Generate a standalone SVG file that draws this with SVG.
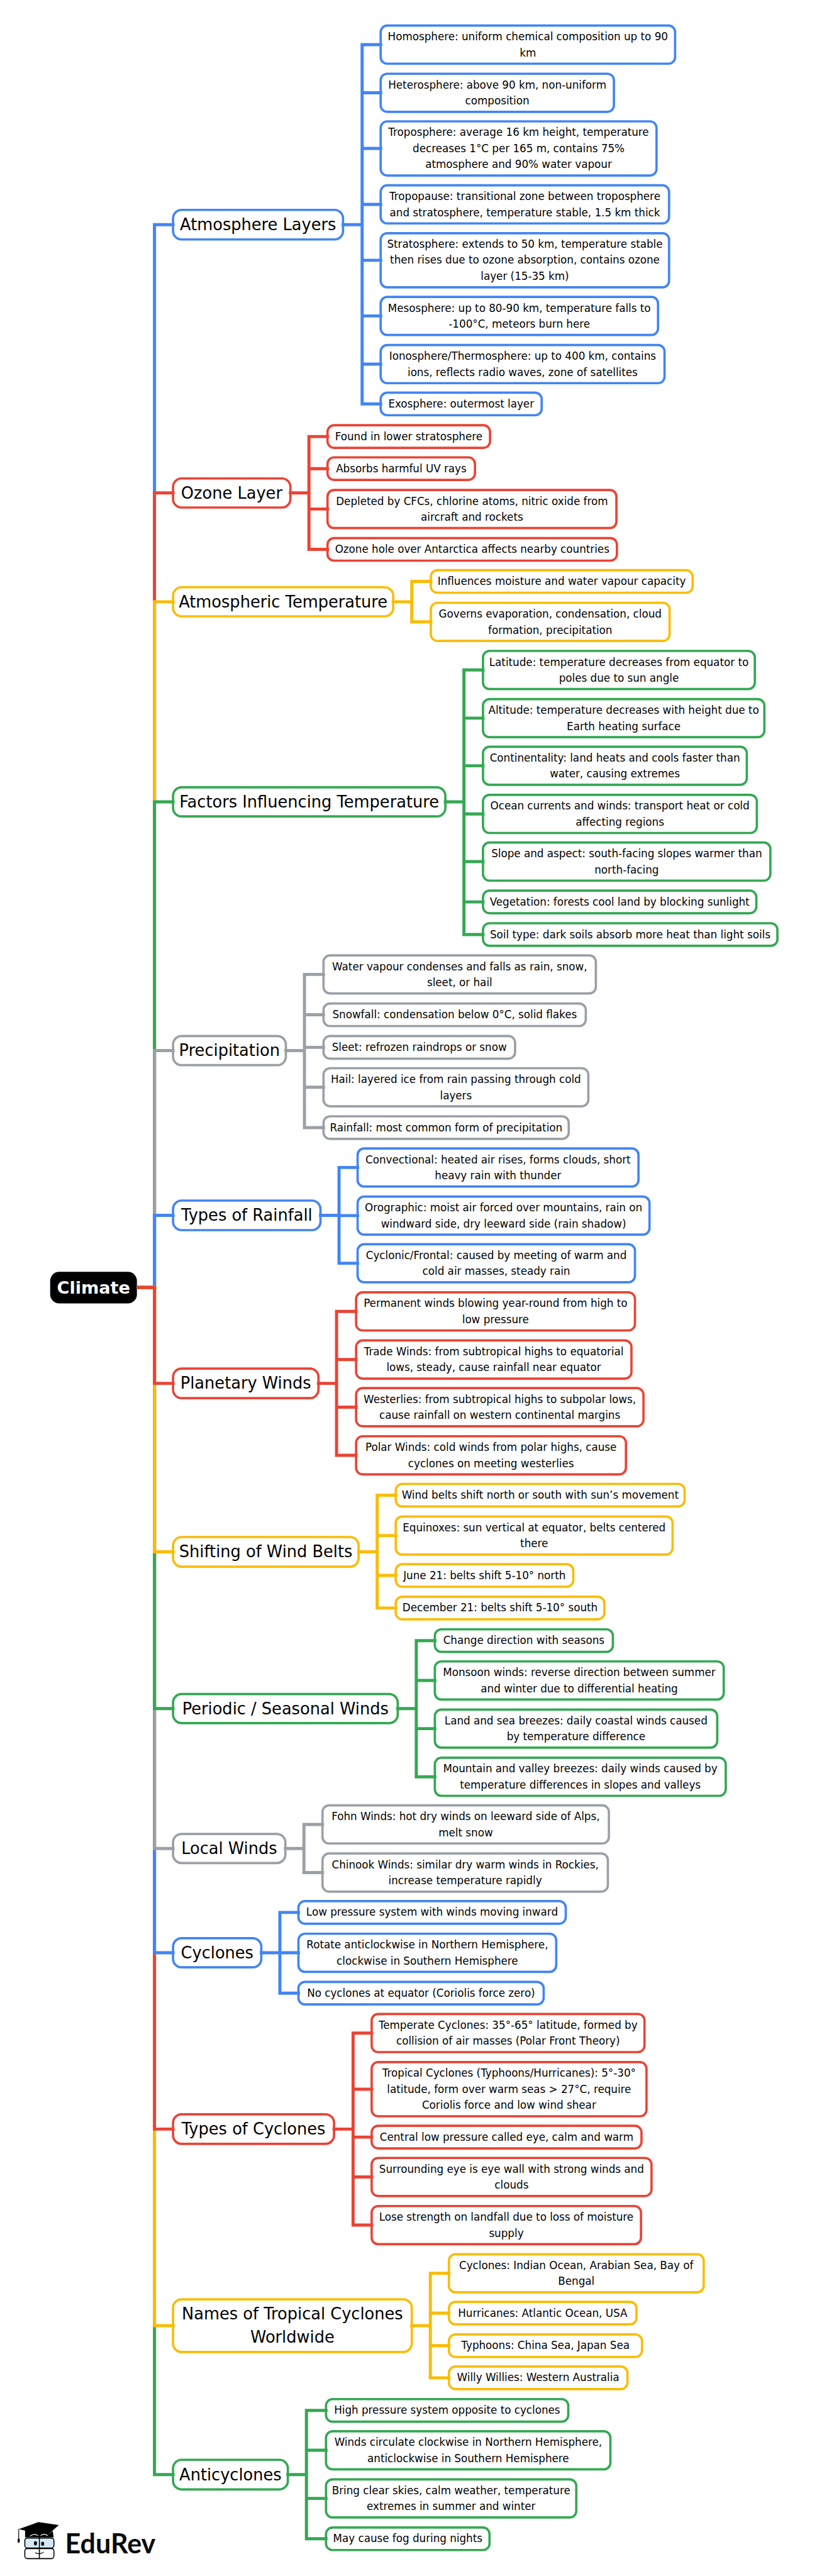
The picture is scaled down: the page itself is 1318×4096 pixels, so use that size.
<svg xmlns="http://www.w3.org/2000/svg" width="1318" height="4096" viewBox="0 0 1318 4096">
<style>
text{font-family:"DejaVu Sans",sans-serif;fill:#000;text-anchor:middle}
.t{font-size:21px}
.h{font-size:32.2px}
rect.n,rect.f{fill:#fff;stroke-width:4.6}
rect.n{rx:17px;ry:17px}
rect.f{rx:13px;ry:13px}
.b{stroke:#4285F4}.r{stroke:#EA4335}.y{stroke:#FBBC04}.g{stroke:#34A853}.a{stroke:#9AA0A6}
#connectors path{fill:none;stroke-width:6.2;stroke-linecap:square;stroke-linejoin:miter}
</style>
<rect width="1318" height="4096" fill="#fff"/>
<g transform="scale(0.7974)">
<g id="nodes">
<g id="root"><rect x="100" y="2536" width="173" height="63" rx="18" fill="#000"/><text x="186.5" y="2580" style="font-size:34px;font-weight:700;fill:#fff">Climate</text></g>

<g id="atmosphere-layers"><rect class="n b" x="345" y="418.5" width="339" height="59"/><text class="h" x="514.5" y="459">Atmosphere Layers</text></g>
<g id="a1"><rect class="f b" x="759" y="51" width="587" height="76"/><text class="t" x="1052.5" y="80.5">Homosphere: uniform chemical composition up to 90</text><text class="t" x="1052.5" y="112.5">km</text></g>
<g id="a2"><rect class="f b" x="759" y="147" width="465" height="76"/><text class="t" x="991.5" y="176.5">Heterosphere: above 90 km, non-uniform</text><text class="t" x="991.5" y="208.5">composition</text></g>
<g id="a3"><rect class="f b" x="759" y="242" width="550" height="108"/><text class="t" x="1034" y="271">Troposphere: average 16 km height, temperature</text><text class="t" x="1034" y="303">decreases 1°C per 165 m, contains 75%</text><text class="t" x="1034" y="335">atmosphere and 90% water vapour</text></g>
<g id="a4"><rect class="f b" x="759" y="369.5" width="575" height="76"/><text class="t" x="1046.5" y="399">Tropopause: transitional zone between troposphere</text><text class="t" x="1046.5" y="431">and stratosphere, temperature stable, 1.5 km thick</text></g>
<g id="a5"><rect class="f b" x="759" y="465" width="575" height="108"/><text class="t" x="1046.5" y="494">Stratosphere: extends to 50 km, temperature stable</text><text class="t" x="1046.5" y="526">then rises due to ozone absorption, contains ozone</text><text class="t" x="1046.5" y="558">layer (15-35 km)</text></g>
<g id="a6"><rect class="f b" x="759" y="592" width="553" height="76"/><text class="t" x="1035.5" y="621.5">Mesosphere: up to 80-90 km, temperature falls to</text><text class="t" x="1035.5" y="653.5">-100°C, meteors burn here</text></g>
<g id="a7"><rect class="f b" x="759" y="688" width="566" height="76"/><text class="t" x="1042" y="717.5">Ionosphere/Thermosphere: up to 400 km, contains</text><text class="t" x="1042" y="749.5">ions, reflects radio waves, zone of satellites</text></g>
<g id="a8"><rect class="f b" x="759" y="783" width="321" height="45"/><text class="t" x="919.5" y="812.5">Exosphere: outermost layer</text></g>

<g id="ozone-layer"><rect class="n r" x="345" y="954" width="234" height="58"/><text class="h" x="462" y="994">Ozone Layer</text></g>
<g id="o1"><rect class="f r" x="653" y="848" width="324" height="45"/><text class="t" x="815" y="877.5">Found in lower stratosphere</text></g>
<g id="o2"><rect class="f r" x="653" y="912" width="294" height="45"/><text class="t" x="800" y="941.5">Absorbs harmful UV rays</text></g>
<g id="o3"><rect class="f r" x="653" y="977" width="576" height="76"/><text class="t" x="941" y="1006.5">Depleted by CFCs, chlorine atoms, nitric oxide from</text><text class="t" x="941" y="1038.5">aircraft and rockets</text></g>
<g id="o4"><rect class="f r" x="653" y="1073" width="577" height="45"/><text class="t" x="941.5" y="1102.5">Ozone hole over Antarctica affects nearby countries</text></g>

<g id="atmospheric-temperature"><rect class="n y" x="345" y="1171" width="439" height="58"/><text class="h" x="564.5" y="1211">Atmospheric Temperature</text></g>
<g id="t1"><rect class="f y" x="859" y="1137" width="522" height="45"/><text class="t" x="1120" y="1166.5">Influences moisture and water vapour capacity</text></g>
<g id="t2"><rect class="f y" x="859" y="1202" width="476" height="76"/><text class="t" x="1097" y="1231.5">Governs evaporation, condensation, cloud</text><text class="t" x="1097" y="1263.5">formation, precipitation</text></g>

<g id="factors"><rect class="n g" x="345" y="1570" width="543" height="58"/><text class="h" x="616.5" y="1610">Factors Influencing Temperature</text></g>
<g id="f1"><rect class="f g" x="963" y="1298" width="542" height="76"/><text class="t" x="1234" y="1327.5">Latitude: temperature decreases from equator to</text><text class="t" x="1234" y="1359.5">poles due to sun angle</text></g>
<g id="f2"><rect class="f g" x="963" y="1394" width="561" height="76"/><text class="t" x="1243.5" y="1423.5">Altitude: temperature decreases with height due to</text><text class="t" x="1243.5" y="1455.5">Earth heating surface</text></g>
<g id="f3"><rect class="f g" x="963" y="1489" width="526" height="76"/><text class="t" x="1226" y="1518.5">Continentality: land heats and cools faster than</text><text class="t" x="1226" y="1550.5">water, causing extremes</text></g>
<g id="f4"><rect class="f g" x="963" y="1585" width="546" height="76"/><text class="t" x="1236" y="1614.5">Ocean currents and winds: transport heat or cold</text><text class="t" x="1236" y="1646.5">affecting regions</text></g>
<g id="f5"><rect class="f g" x="963" y="1680" width="573" height="76"/><text class="t" x="1249.5" y="1709.5">Slope and aspect: south-facing slopes warmer than</text><text class="t" x="1249.5" y="1741.5">north-facing</text></g>
<g id="f6"><rect class="f g" x="963" y="1776" width="545" height="45"/><text class="t" x="1235.5" y="1805.5">Vegetation: forests cool land by blocking sunlight</text></g>
<g id="f7"><rect class="f g" x="963" y="1841" width="587" height="45"/><text class="t" x="1256.5" y="1870.5">Soil type: dark soils absorb more heat than light soils</text></g>

<g id="precipitation"><rect class="n a" x="345" y="2066" width="225" height="58"/><text class="h" x="457.5" y="2106">Precipitation</text></g>
<g id="p1"><rect class="f a" x="645" y="1905" width="543" height="76"/><text class="t" x="916.5" y="1934.5">Water vapour condenses and falls as rain, snow,</text><text class="t" x="916.5" y="1966.5">sleet, or hail</text></g>
<g id="p2"><rect class="f a" x="645" y="2001" width="523" height="45"/><text class="t" x="906.5" y="2030.5">Snowfall: condensation below 0°C, solid flakes</text></g>
<g id="p3"><rect class="f a" x="645" y="2066" width="382" height="45"/><text class="t" x="836" y="2095.5">Sleet: refrozen raindrops or snow</text></g>
<g id="p4"><rect class="f a" x="645" y="2130" width="528" height="76"/><text class="t" x="909" y="2159.5">Hail: layered ice from rain passing through cold</text><text class="t" x="909" y="2191.5">layers</text></g>
<g id="p5"><rect class="f a" x="645" y="2226" width="489" height="45"/><text class="t" x="889.5" y="2255.5">Rainfall: most common form of precipitation</text></g>

<g id="types-of-rainfall"><rect class="n b" x="345" y="2394" width="294" height="59"/><text class="h" x="492" y="2434.5">Types of Rainfall</text></g>
<g id="r1"><rect class="f b" x="713" y="2290" width="560" height="76"/><text class="t" x="993" y="2319.5">Convectional: heated air rises, forms clouds, short</text><text class="t" x="993" y="2351.5">heavy rain with thunder</text></g>
<g id="r2"><rect class="f b" x="713" y="2386" width="582" height="76"/><text class="t" x="1004" y="2415.5">Orographic: moist air forced over mountains, rain on</text><text class="t" x="1004" y="2447.5">windward side, dry leeward side (rain shadow)</text></g>
<g id="r3"><rect class="f b" x="713" y="2481" width="553" height="76"/><text class="t" x="989.5" y="2510.5">Cyclonic/Frontal: caused by meeting of warm and</text><text class="t" x="989.5" y="2542.5">cold air masses, steady rain</text></g>

<g id="planetary-winds"><rect class="n r" x="345" y="2729" width="290" height="59"/><text class="h" x="490" y="2769.5">Planetary Winds</text></g>
<g id="w1"><rect class="f r" x="710" y="2577" width="556" height="76"/><text class="t" x="988" y="2606.5">Permanent winds blowing year-round from high to</text><text class="t" x="988" y="2638.5">low pressure</text></g>
<g id="w2"><rect class="f r" x="710" y="2673" width="549" height="76"/><text class="t" x="984.5" y="2702.5">Trade Winds: from subtropical highs to equatorial</text><text class="t" x="984.5" y="2734.5">lows, steady, cause rainfall near equator</text></g>
<g id="w3"><rect class="f r" x="710" y="2768" width="573" height="76"/><text class="t" x="996.5" y="2797.5">Westerlies: from subtropical highs to subpolar lows,</text><text class="t" x="996.5" y="2829.5">cause rainfall on western continental margins</text></g>
<g id="w4"><rect class="f r" x="710" y="2864" width="538" height="76"/><text class="t" x="979" y="2893.5">Polar Winds: cold winds from polar highs, cause</text><text class="t" x="979" y="2925.5">cyclones on meeting westerlies</text></g>

<g id="shifting"><rect class="n y" x="345" y="3065" width="370" height="59"/><text class="h" x="530" y="3105.5">Shifting of Wind Belts</text></g>
<g id="s1"><rect class="f y" x="789" y="2959" width="576" height="45"/><text class="t" x="1077" y="2988.5">Wind belts shift north or south with sun’s movement</text></g>
<g id="s2"><rect class="f y" x="789" y="3024" width="552" height="76"/><text class="t" x="1065" y="3053.5">Equinoxes: sun vertical at equator, belts centered</text><text class="t" x="1065" y="3085.5">there</text></g>
<g id="s3"><rect class="f y" x="789" y="3119" width="354" height="45"/><text class="t" x="966" y="3148.5">June 21: belts shift 5-10° north</text></g>
<g id="s4"><rect class="f y" x="789" y="3184" width="416" height="45"/><text class="t" x="997" y="3213.5">December 21: belts shift 5-10° south</text></g>

<g id="periodic"><rect class="n g" x="345" y="3378" width="448" height="58"/><text class="h" x="569" y="3418">Periodic / Seasonal Winds</text></g>
<g id="m1"><rect class="f g" x="867" y="3249" width="355" height="45"/><text class="t" x="1044.5" y="3278.5">Change direction with seasons</text></g>
<g id="m2"><rect class="f g" x="867" y="3313" width="576" height="76"/><text class="t" x="1155" y="3342.5">Monsoon winds: reverse direction between summer</text><text class="t" x="1155" y="3374.5">and winter due to differential heating</text></g>
<g id="m3"><rect class="f g" x="867" y="3409" width="563" height="76"/><text class="t" x="1148.5" y="3438.5">Land and sea breezes: daily coastal winds caused</text><text class="t" x="1148.5" y="3470.5">by temperature difference</text></g>
<g id="m4"><rect class="f g" x="867" y="3505" width="580" height="76"/><text class="t" x="1157" y="3534.5">Mountain and valley breezes: daily winds caused by</text><text class="t" x="1157" y="3566.5">temperature differences in slopes and valleys</text></g>

<g id="local-winds"><rect class="n a" x="345" y="3657" width="224" height="58"/><text class="h" x="457" y="3697">Local Winds</text></g>
<g id="l1"><rect class="f a" x="643" y="3600" width="571" height="76"/><text class="t" x="928.5" y="3629.5">Fohn Winds: hot dry winds on leeward side of Alps,</text><text class="t" x="928.5" y="3661.5">melt snow</text></g>
<g id="l2"><rect class="f a" x="643" y="3696" width="569" height="76"/><text class="t" x="927.5" y="3725.5">Chinook Winds: similar dry warm winds in Rockies,</text><text class="t" x="927.5" y="3757.5">increase temperature rapidly</text></g>

<g id="cyclones"><rect class="n b" x="345" y="3865" width="176" height="58"/><text class="h" x="433" y="3905">Cyclones</text></g>
<g id="c1"><rect class="f b" x="595" y="3791" width="533" height="45"/><text class="t" x="861.5" y="3820.5">Low pressure system with winds moving inward</text></g>
<g id="c2"><rect class="f b" x="595" y="3856" width="514" height="76"/><text class="t" x="852" y="3885.5">Rotate anticlockwise in Northern Hemisphere,</text><text class="t" x="852" y="3917.5">clockwise in Southern Hemisphere</text></g>
<g id="c3"><rect class="f b" x="595" y="3952" width="489" height="45"/><text class="t" x="839.5" y="3981.5">No cyclones at equator (Coriolis force zero)</text></g>

<g id="types-of-cyclones"><rect class="n r" x="345" y="4216" width="321" height="59"/><text class="h" x="505.5" y="4256.5">Types of Cyclones</text></g>
<g id="k1"><rect class="f r" x="741" y="4016" width="544" height="76"/><text class="t" x="1013" y="4045.5">Temperate Cyclones: 35°-65° latitude, formed by</text><text class="t" x="1013" y="4077.5">collision of air masses (Polar Front Theory)</text></g>
<g id="k2"><rect class="f r" x="741" y="4112" width="548" height="108"/><text class="t" x="1015" y="4141">Tropical Cyclones (Typhoons/Hurricanes): 5°-30°</text><text class="t" x="1015" y="4173">latitude, form over warm seas &gt; 27°C, require</text><text class="t" x="1015" y="4205">Coriolis force and low wind shear</text></g>
<g id="k3"><rect class="f r" x="741" y="4239" width="538" height="45"/><text class="t" x="1010" y="4268.5">Central low pressure called eye, calm and warm</text></g>
<g id="k4"><rect class="f r" x="741" y="4303" width="558" height="76"/><text class="t" x="1020" y="4332.5">Surrounding eye is eye wall with strong winds and</text><text class="t" x="1020" y="4364.5">clouds</text></g>
<g id="k5"><rect class="f r" x="741" y="4399" width="537" height="76"/><text class="t" x="1009.5" y="4428.5">Lose strength on landfall due to loss of moisture</text><text class="t" x="1009.5" y="4460.5">supply</text></g>

<g id="names"><rect class="n y" x="345" y="4585" width="476" height="105"/><text class="h" x="583" y="4625">Names of Tropical Cyclones</text><text class="h" x="583" y="4671">Worldwide</text></g>
<g id="u1"><rect class="f y" x="895" y="4495" width="508" height="76"/><text class="t" x="1149" y="4524.5">Cyclones: Indian Ocean, Arabian Sea, Bay of</text><text class="t" x="1149" y="4556.5">Bengal</text></g>
<g id="u2"><rect class="f y" x="895" y="4590" width="374" height="45"/><text class="t" x="1082" y="4619.5">Hurricanes: Atlantic Ocean, USA</text></g>
<g id="u3"><rect class="f y" x="895" y="4655" width="385" height="45"/><text class="t" x="1087.5" y="4684.5">Typhoons: China Sea, Japan Sea</text></g>
<g id="u4"><rect class="f y" x="895" y="4719" width="356" height="45"/><text class="t" x="1073" y="4748.5">Willy Willies: Western Australia</text></g>

<g id="anticyclones"><rect class="n g" x="345" y="4905" width="229" height="59"/><text class="h" x="459.5" y="4945.5">Anticyclones</text></g>
<g id="v1"><rect class="f g" x="650" y="4784" width="483" height="45"/><text class="t" x="891.5" y="4813.5">High pressure system opposite to cyclones</text></g>
<g id="v2"><rect class="f g" x="650" y="4848" width="567" height="76"/><text class="t" x="933.5" y="4877.5">Winds circulate clockwise in Northern Hemisphere,</text><text class="t" x="933.5" y="4909.5">anticlockwise in Southern Hemisphere</text></g>
<g id="v3"><rect class="f g" x="650" y="4944" width="499" height="76"/><text class="t" x="899.5" y="4973.5">Bring clear skies, calm weather, temperature</text><text class="t" x="899.5" y="5005.5">extremes in summer and winter</text></g>
<g id="v4"><rect class="f g" x="650" y="5040" width="326" height="45"/><text class="t" x="813" y="5069.5">May cause fog during nights</text></g>
</g>

<g id="connectors">
<path class="b" d="M276 2567.5H308V448H345"/>
<path class="r" d="M276 2567.5H308V983H345"/>
<path class="y" d="M276 2567.5H308V1200H345"/>
<path class="g" d="M276 2567.5H308V1599H345"/>
<path class="a" d="M276 2567.5H308V2095H345"/>
<path class="b" d="M276 2567.5H308V2423.5H345"/>
<path class="g" d="M276 2567.5H308V4934.5H345"/>
<path class="y" d="M276 2567.5H308V4637.5H345"/>
<path class="r" d="M276 2567.5H308V4245.5H345"/>
<path class="b" d="M276 2567.5H308V3894H345"/>
<path class="a" d="M276 2567.5H308V3686H345"/>
<path class="g" d="M276 2567.5H308V3407H345"/>
<path class="y" d="M276 2567.5H308V3094.5H345"/>
<path class="r" d="M276 2567.5H308V2758.5H345"/>
<path class="b" d="M684 448H722M722 89V805.5M722 89H759M722 185H759M722 296H759M722 407.5H759M722 519H759M722 630H759M722 726H759M722 805.5H759"/>
<path class="r" d="M579 983H616M616 870.5V1095.5M616 870.5H653M616 934.5H653M616 1015H653M616 1095.5H653"/>
<path class="y" d="M784 1200H821M821 1159.5V1240M821 1159.5H859M821 1240H859"/>
<path class="g" d="M888 1599H925M925 1336V1863.5M925 1336H963M925 1432H963M925 1527H963M925 1623H963M925 1718H963M925 1798.5H963M925 1863.5H963"/>
<path class="a" d="M570 2095H607M607 1943V2248.5M607 1943H645M607 2023.5H645M607 2088.5H645M607 2168H645M607 2248.5H645"/>
<path class="b" d="M639 2423.5H676M676 2328V2519M676 2328H713M676 2424H713M676 2519H713"/>
<path class="r" d="M635 2758.5H671M671 2615V2902M671 2615H710M671 2711H710M671 2806H710M671 2902H710"/>
<path class="y" d="M715 3094.5H752M752 2981.5V3206.5M752 2981.5H789M752 3062H789M752 3141.5H789M752 3206.5H789"/>
<path class="g" d="M793 3407H830M830 3271.5V3543M830 3271.5H867M830 3351H867M830 3447H867M830 3543H867"/>
<path class="a" d="M569 3686H606M606 3638V3734M606 3638H643M606 3734H643"/>
<path class="b" d="M521 3894H558M558 3813.5V3974.5M558 3813.5H595M558 3894H595M558 3974.5H595"/>
<path class="r" d="M666 4245.5H704M704 4054V4437M704 4054H741M704 4166H741M704 4261.5H741M704 4341H741M704 4437H741"/>
<path class="y" d="M821 4637.5H858M858 4533V4741.5M858 4533H895M858 4612.5H895M858 4677.5H895M858 4741.5H895"/>
<path class="g" d="M574 4934.5H611M611 4806.5V5062.5M611 4806.5H650M611 4886H650M611 4982H650M611 5062.5H650"/>
</g>

<g id="logo">
<rect x="49.5" y="5082" width="58" height="20" rx="5" fill="#fff" stroke="#000" stroke-width="2"/>
<rect x="49.5" y="5061" width="58" height="20" rx="5" fill="#d4e8f8" stroke="#000" stroke-width="2"/>
<path d="M50 5045V5059.5H107L105 5046.7L95 5055Z" fill="#000"/>
<path d="M37.3 5043.3L76.7 5029.3L117.3 5035L95 5055L50 5046Z" fill="#000"/>
<path d="M60 5057q8-6 16-1M81 5056q7-5 14 0" fill="none" stroke="#fff" stroke-width="1.5"/>
<path d="M37.3 5043V5063" stroke="#000" stroke-width="1.5" fill="none"/>
<ellipse cx="37.3" cy="5066" rx="2.2" ry="4.5" fill="#000"/>
<path d="M78.5 5057V5102" stroke="#000" stroke-width="2" fill="none"/>
<ellipse cx="70.7" cy="5071.5" rx="3" ry="4.5" fill="#000"/>
<ellipse cx="85" cy="5072.5" rx="3" ry="4" fill="#000"/>
<path d="M70 5090q8 5 17-1" stroke="#000" stroke-width="1.5" fill="none"/>
<text x="220" y="5091.5" style="font-family:Lato,sans-serif;font-size:54px;font-weight:700;fill:#0a0a0a">EduRev</text>
</g>
</g>
</svg>
